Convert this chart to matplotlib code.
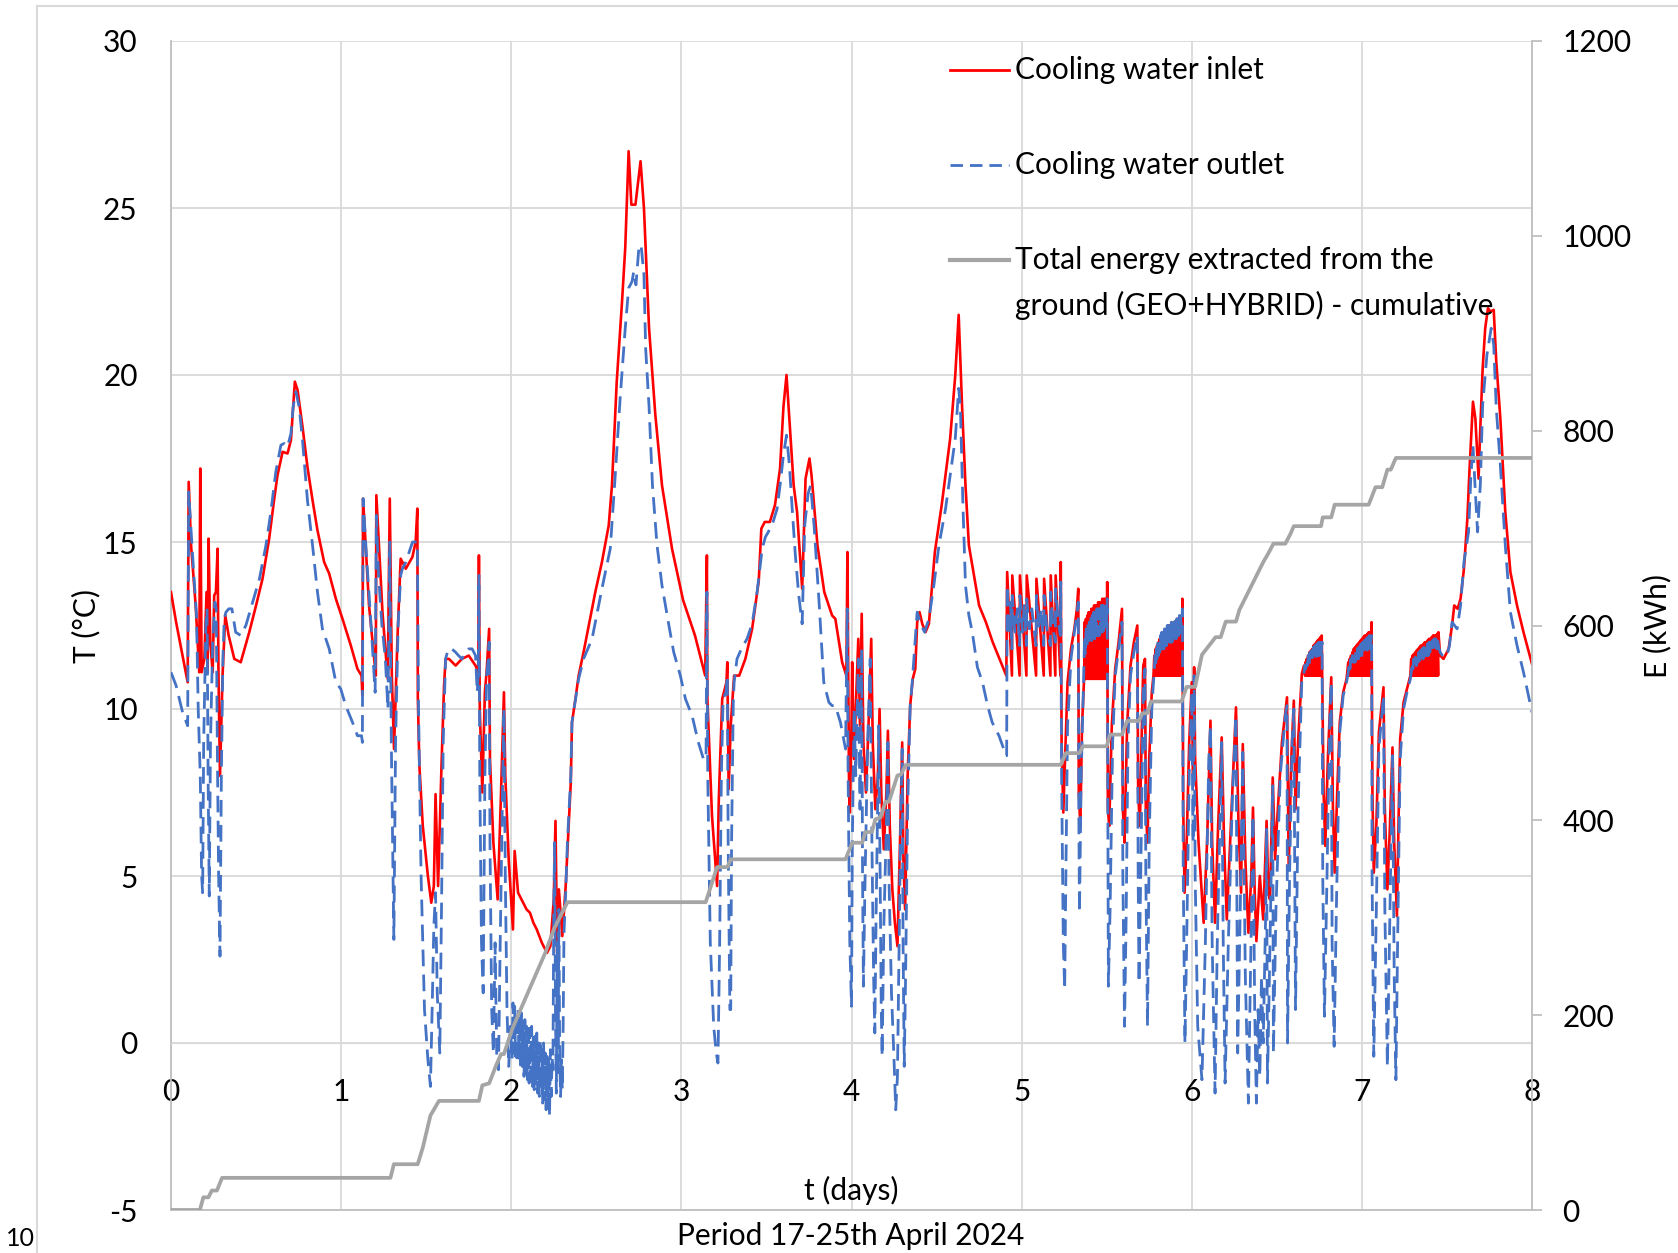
import numpy as np
import matplotlib
matplotlib.use("Agg")
import matplotlib.pyplot as plt
from matplotlib.lines import Line2D

plt.rcParams['font.family'] = ['Lato', 'DejaVu Sans']
plt.rcParams['axes.unicode_minus'] = False

RED = '#FF0000'
BLUE = '#4472C4'
GREY = '#A5A5A5'
GRID = '#D9D9D9'
AXIS = '#BFBFBF'
FS = 21.5

# ---- cooling water inlet (t in days, T in degC) ----
inlet_day0 = [(0.000, 13.5), (0.030, 12.6), (0.060, 11.8), (0.098, 10.8), (0.104, 16.8), (0.118, 14.9),
              (0.145, 13.1), (0.166, 11.1), (0.172, 17.2), (0.180, 11.1), (0.196, 11.5), (0.209, 13.5),
              (0.215, 11.1), (0.221, 15.1), (0.231, 12.0), (0.245, 11.1), (0.254, 13.4), (0.264, 13.5),
              (0.274, 14.8), (0.279, 11.1), (0.288, 8.0), (0.303, 11.0), (0.319, 12.8), (0.339, 12.2),
              (0.372, 11.5), (0.410, 11.4), (0.46, 12.3), (0.50, 13.1), (0.538, 13.9), (0.577, 15.1),
              (0.607, 16.3), (0.626, 17.0), (0.656, 17.7), (0.685, 17.65), (0.705, 18.05), (0.718, 19.05),
              (0.728, 19.8), (0.744, 19.55), (0.773, 18.45), (0.802, 17.25), (0.832, 16.25), (0.861, 15.35),
              (0.90, 14.4), (0.93, 14.05), (0.969, 13.3), (1.008, 12.7)]
inlet_day1 = [(1.057, 11.9), (1.096, 11.2), (1.12, 11.0), (1.125, 10.4), (1.129, 16.3), (1.164, 13.1),
              (1.204, 11.0), (1.207, 16.4), (1.243, 12.9), (1.274, 10.9), (1.286, 16.3), (1.298, 11.0),
              (1.311, 8.8), (1.331, 12.1), (1.35, 14.5), (1.38, 14.2), (1.419, 14.55), (1.438, 15.0),
              (1.448, 16.0), (1.451, 10.3), (1.46, 8.3), (1.48, 6.5), (1.51, 5.0), (1.53, 4.2),
              (1.545, 4.7), (1.555, 7.45), (1.57, 4.7), (1.59, 8.3), (1.605, 10.7), (1.614, 11.5),
              (1.634, 11.5), (1.673, 11.3), (1.71, 11.5), (1.75, 11.6), (1.79, 11.3), (1.806, 11.1),
              (1.81, 14.6), (1.815, 10.0), (1.83, 7.5), (1.845, 10.5), (1.855, 11.1), (1.87, 12.4),
              (1.875, 8.5), (1.895, 6.0), (1.92, 4.3), (1.94, 7.5), (1.957, 10.5), (1.965, 8.0),
              (1.985, 5.5), (2.01, 3.4)]
inlet_day2 = [(2.02, 5.75), (2.04, 4.5), (2.06, 4.3), (2.09, 4.0), (2.11, 3.9), (2.13, 3.6), (2.15, 3.4),
              (2.18, 3.0), (2.21, 2.7), (2.23, 2.9), (2.25, 4.3), (2.26, 6.65), (2.27, 2.7), (2.28, 4.6),
              (2.30, 3.2), (2.32, 4.7), (2.35, 7.8), (2.357, 9.6), (2.38, 10.4), (2.396, 11.0),
              (2.425, 11.7), (2.494, 13.5), (2.533, 14.4), (2.573, 15.5), (2.592, 16.7), (2.62, 19.8),
              (2.65, 22.1), (2.67, 23.8), (2.69, 26.7), (2.706, 25.1), (2.73, 25.1), (2.76, 26.4),
              (2.78, 25.0), (2.81, 21.4), (2.847, 18.8), (2.886, 16.7), (2.945, 14.8), (3.01, 13.26)]
inlet_day3 = [(3.08, 12.2), (3.14, 11.0), (3.15, 14.6), (3.153, 10.3), (3.18, 6.8), (3.21, 4.7),
              (3.22, 7.3), (3.24, 10.3), (3.265, 10.8), (3.27, 11.4), (3.278, 7.6), (3.29, 9.5),
              (3.31, 11.0), (3.34, 11.0), (3.376, 11.5), (3.416, 12.4), (3.455, 13.85), (3.47, 15.4),
              (3.49, 15.6), (3.52, 15.6), (3.55, 16.1), (3.58, 17.2), (3.60, 19.05), (3.618, 20.0),
              (3.63, 19.05), (3.66, 16.7), (3.68, 15.9), (3.71, 13.6), (3.73, 16.9), (3.753, 17.5),
              (3.765, 17.0), (3.80, 14.9), (3.84, 13.5), (3.886, 12.8), (3.905, 12.7), (3.945, 11.4),
              (3.97, 11.0), (3.976, 14.7), (3.985, 8.0), (3.99, 6.9)]
inlet_day4 = [(4.0, 9.5), (4.004, 11.4), (4.015, 8.5), (4.025, 10.0), (4.04, 12.1), (4.05, 9.5),
              (4.06, 12.85), (4.07, 9.0), (4.085, 7.5), (4.10, 9.5), (4.116, 12.1), (4.125, 9.0),
              (4.14, 7.0), (4.155, 8.0), (4.165, 10.0), (4.175, 7.5), (4.19, 5.8), (4.205, 7.5),
              (4.214, 9.35), (4.225, 6.5), (4.24, 4.6), (4.255, 3.6), (4.27, 2.9), (4.285, 6.0),
              (4.298, 9.0), (4.305, 5.5), (4.315, 4.0), (4.33, 8.0), (4.345, 10.1), (4.36, 10.9),
              (4.375, 11.2), (4.386, 12.6), (4.40, 12.9), (4.416, 12.55), (4.435, 12.3), (4.455, 12.55),
              (4.49, 14.7), (4.53, 16.1), (4.56, 17.3), (4.58, 18.1), (4.61, 20.0), (4.63, 21.8),
              (4.65, 19.05), (4.67, 16.7), (4.69, 14.9), (4.72, 14.0), (4.75, 13.1), (4.79, 12.6),
              (4.83, 12.0), (4.87, 11.5), (4.91, 11.0),
              (4.915, 14.1), (4.943, 11.0), (4.945, 14.0), (4.988, 11.0), (4.990, 14.0)]
inlet_day5 = [(5.028, 11.0), (5.030, 14.0), (5.085, 11.0), (5.087, 13.9), (5.130, 11.0), (5.132, 13.9),
              (5.169, 11.0), (5.171, 14.0), (5.198, 11.0), (5.200, 14.0), (5.228, 11.0), (5.230, 14.4),
              (5.235, 9.0), (5.245, 6.9), (5.255, 8.5), (5.27, 10.8), (5.29, 11.8), (5.31, 12.4),
              (5.325, 13.0), (5.333, 13.6), (5.336, 7.5), (5.345, 6.5), (5.355, 9.5), (5.368, 11.0),
              (5.370, 12.6), (5.376, 10.9), (5.378, 12.7), (5.384, 10.9), (5.386, 12.8), (5.392, 10.9),
              (5.394, 12.9), (5.400, 10.9), (5.402, 12.9), (5.408, 10.9), (5.410, 13.0), (5.416, 10.9),
              (5.418, 13.0), (5.424, 10.9), (5.426, 13.1), (5.432, 10.9), (5.434, 13.1), (5.440, 10.9),
              (5.442, 13.1), (5.448, 10.9), (5.450, 13.2), (5.456, 10.9), (5.458, 13.2), (5.464, 10.9),
              (5.466, 13.2), (5.472, 10.9), (5.474, 13.3), (5.480, 10.9), (5.482, 13.3), (5.488, 10.9),
              (5.490, 13.3), (5.496, 10.9), (5.498, 13.3), (5.502, 11.0),
              (5.503, 13.8), (5.507, 7.0), (5.515, 6.5), (5.53, 9.5), (5.55, 11.2), (5.57, 12.0),
              (5.59, 13.0), (5.595, 7.0), (5.605, 6.0), (5.62, 9.5), (5.64, 11.3), (5.66, 12.0),
              (5.68, 12.5), (5.685, 7.5), (5.695, 6.5), (5.705, 9.0), (5.715, 11.3), (5.725, 11.5),
              (5.73, 7.0), (5.74, 6.0), (5.75, 8.5), (5.765, 10.5), (5.775, 11.0),
              (5.780, 11.6), (5.786, 11.0), (5.788, 11.8), (5.794, 11.0), (5.796, 11.9), (5.802, 11.0),
              (5.804, 12.0), (5.810, 11.0), (5.812, 12.1), (5.818, 11.0), (5.820, 12.2), (5.826, 11.0),
              (5.828, 12.25), (5.834, 11.0), (5.836, 12.3), (5.842, 11.0), (5.844, 12.35), (5.850, 11.0),
              (5.852, 12.4), (5.858, 11.0), (5.860, 12.45), (5.866, 11.0), (5.868, 12.5), (5.874, 11.0),
              (5.876, 12.5), (5.882, 11.0), (5.884, 12.55), (5.890, 11.0), (5.892, 12.6), (5.898, 11.0),
              (5.900, 12.6), (5.906, 11.0), (5.908, 12.65), (5.914, 11.0), (5.916, 12.7), (5.922, 11.0),
              (5.924, 12.7), (5.930, 11.0), (5.932, 12.75), (5.938, 11.0), (5.940, 12.8), (5.943, 11.2),
              (5.945, 13.3), (5.95, 7.0), (5.958, 4.5), (5.97, 6.0), (5.985, 9.0)]
inlet_day6 = [(6.0, 10.8), (6.008, 8.0), (6.014, 11.25), (6.02, 8.5), (6.04, 6.0), (6.07, 3.6), (6.09, 6.0),
              (6.11, 9.65), (6.12, 6.0), (6.137, 3.6), (6.155, 6.5), (6.176, 9.15), (6.19, 6.0),
              (6.206, 3.7), (6.23, 6.5), (6.26, 10.05), (6.275, 6.5), (6.29, 4.5), (6.30, 8.95),
              (6.315, 5.5), (6.333, 3.3), (6.35, 5.0), (6.36, 7.05), (6.37, 4.5), (6.38, 3.05),
              (6.40, 5.0), (6.42, 3.7), (6.44, 6.65), (6.45, 4.5), (6.46, 4.3), (6.476, 7.95),
              (6.49, 5.5), (6.50, 6.5), (6.53, 9.0), (6.56, 10.35), (6.57, 5.2), (6.585, 8.5),
              (6.60, 10.25), (6.61, 7.0), (6.625, 9.0), (6.647, 11.05),
              (6.660, 11.3), (6.666, 11.0), (6.668, 11.4), (6.674, 11.0), (6.676, 11.5), (6.682, 11.0),
              (6.684, 11.6), (6.690, 11.0), (6.692, 11.7), (6.698, 11.0), (6.700, 11.75), (6.706, 11.0),
              (6.708, 11.8), (6.714, 11.0), (6.716, 11.9), (6.722, 11.0), (6.724, 11.95), (6.730, 11.0),
              (6.732, 12.0), (6.738, 11.0), (6.740, 12.05), (6.746, 11.0), (6.748, 12.1), (6.754, 11.0),
              (6.756, 12.15), (6.762, 11.0), (6.764, 12.2),
              (6.775, 7.5), (6.785, 5.9), (6.80, 8.5), (6.82, 10.95), (6.83, 7.0), (6.84, 5.1),
              (6.855, 7.5), (6.87, 9.6), (6.89, 10.5), (6.91, 10.9),
              (6.920, 11.4), (6.926, 11.0), (6.928, 11.5), (6.934, 11.0), (6.936, 11.6), (6.942, 11.0),
              (6.944, 11.7), (6.950, 11.0), (6.952, 11.8), (6.958, 11.0), (6.960, 11.85), (6.966, 11.0),
              (6.968, 11.9), (6.974, 11.0), (6.976, 11.95), (6.982, 11.0), (6.984, 12.0), (6.990, 11.0),
              (6.992, 12.05), (6.998, 11.0)]
inlet_day7 = [(7.000, 12.1), (7.006, 11.0), (7.008, 12.15), (7.014, 11.0), (7.016, 12.2), (7.022, 11.0),
              (7.024, 12.2), (7.030, 11.0), (7.032, 12.25), (7.038, 11.0), (7.040, 12.3), (7.046, 11.0),
              (7.048, 12.3), (7.054, 11.1), (7.057, 12.6), (7.062, 7.5), (7.07, 5.1), (7.085, 6.5),
              (7.10, 9.3), (7.127, 10.65), (7.135, 7.0), (7.15, 4.6), (7.165, 6.5), (7.18, 8.85),
              (7.19, 6.0), (7.206, 3.8), (7.215, 6.5), (7.225, 9.1), (7.245, 10.2), (7.265, 10.6),
              (7.285, 11.0),
              (7.290, 11.5), (7.296, 11.0), (7.298, 11.6), (7.304, 11.0), (7.306, 11.65), (7.312, 11.0),
              (7.314, 11.7), (7.320, 11.0), (7.322, 11.75), (7.328, 11.0), (7.330, 11.8), (7.336, 11.0),
              (7.338, 11.85), (7.344, 11.0), (7.346, 11.9), (7.352, 11.0), (7.354, 11.9), (7.360, 11.0),
              (7.362, 11.95), (7.368, 11.0), (7.370, 12.0), (7.376, 11.0), (7.378, 12.0), (7.384, 11.0),
              (7.386, 12.05), (7.392, 11.0), (7.394, 12.1), (7.400, 11.0), (7.402, 12.1), (7.408, 11.0),
              (7.410, 12.15), (7.416, 11.0), (7.418, 12.2), (7.424, 11.0), (7.426, 12.2), (7.432, 11.0),
              (7.434, 12.2), (7.440, 11.0), (7.442, 12.25), (7.448, 11.0), (7.450, 12.3),
              (7.46, 11.6), (7.48, 11.5), (7.51, 11.8), (7.53, 12.5), (7.543, 13.1), (7.563, 13.0),
              (7.58, 13.3), (7.60, 14.2), (7.62, 15.7), (7.633, 17.2), (7.653, 19.2), (7.667, 18.7),
              (7.686, 16.9), (7.696, 18.4), (7.71, 20.2), (7.725, 21.4), (7.741, 22.0), (7.755, 21.9),
              (7.775, 21.95), (7.79, 20.4), (7.814, 18.7), (7.843, 15.9), (7.873, 14.1), (7.912, 13.1),
              (7.95, 12.3), (8.0, 11.35)]

# ---- cooling water outlet ----
outlet_day0 = [(0.000, 11.1), (0.030, 10.7), (0.068, 9.9), (0.098, 9.5), (0.104, 16.5), (0.127, 14.6),
               (0.150, 12.8), (0.160, 10.0), (0.172, 8.0), (0.180, 5.0), (0.186, 4.5), (0.192, 9.0),
               (0.205, 12.5), (0.212, 13.0), (0.218, 8.0), (0.225, 4.4), (0.232, 9.0), (0.245, 12.0),
               (0.258, 13.2), (0.266, 13.0), (0.272, 9.0), (0.28, 5.0), (0.288, 2.6), (0.296, 8.0),
               (0.305, 11.5), (0.313, 12.7), (0.323, 12.9), (0.340, 13.0), (0.358, 13.0), (0.38, 12.3),
               (0.41, 12.2), (0.44, 12.5), (0.48, 13.2), (0.52, 13.9), (0.558, 14.9), (0.587, 15.9),
               (0.616, 17.1), (0.646, 17.9), (0.665, 17.95), (0.685, 17.85), (0.705, 18.25), (0.718, 19.05),
               (0.734, 19.5), (0.753, 19.05), (0.773, 18.05), (0.802, 16.25), (0.832, 14.9), (0.861, 13.5),
               (0.89, 12.4), (0.93, 11.8), (0.969, 10.8), (0.998, 10.6)]
outlet_day1 = [(1.027, 10.1), (1.067, 9.6), (1.096, 9.2), (1.12, 9.2), (1.125, 9.0), (1.129, 16.3),
               (1.15, 14.5), (1.175, 12.6), (1.20, 10.5), (1.207, 15.8), (1.22, 14.0), (1.24, 12.5),
               (1.26, 11.5), (1.275, 10.0), (1.286, 15.0), (1.295, 9.0), (1.31, 3.1), (1.32, 9.0),
               (1.335, 12.5), (1.35, 14.0), (1.36, 14.2), (1.38, 14.4), (1.40, 14.7), (1.42, 15.0),
               (1.44, 15.0), (1.448, 15.0), (1.455, 10.0), (1.47, 5.0), (1.49, 1.0), (1.51, -0.5),
               (1.525, -1.3), (1.535, 1.0), (1.545, 3.5), (1.555, 4.5), (1.565, 1.5), (1.58, -0.3),
               (1.59, 4.0), (1.60, 9.0), (1.614, 11.5), (1.63, 11.8), (1.65, 11.8), (1.673, 11.7),
               (1.69, 11.6), (1.71, 11.5), (1.73, 11.7), (1.75, 11.8), (1.77, 11.8), (1.79, 11.6),
               (1.80, 10.5), (1.806, 11.0), (1.81, 14.0), (1.815, 8.0), (1.825, 3.0), (1.835, 1.5),
               (1.845, 8.0), (1.855, 11.0), (1.865, 11.5), (1.87, 12.0), (1.875, 6.0), (1.885, 1.0),
               (1.895, -0.3), (1.905, 3.0), (1.915, -0.5), (1.925, -0.8), (1.935, 3.0), (1.95, 8.0),
               (1.957, 10.0), (1.965, 5.0), (1.975, 1.0), (1.985, -0.7), (1.995, 0.5), (2.005, -0.5)]
outlet_day2 = [(2.01, 1.2), (2.015, -0.3), (2.02, 1.1), (2.025, -0.4), (2.03, 0.9), (2.035, -0.6),
               (2.04, 1.0), (2.045, -0.5), (2.05, 0.8), (2.055, -0.8), (2.06, 0.9), (2.065, -0.7),
               (2.07, 0.6), (2.075, -1.0), (2.08, 0.7), (2.085, -0.9), (2.09, 0.5), (2.095, -1.1),
               (2.10, 0.6), (2.105, -1.2), (2.11, 0.4), (2.115, -1.0), (2.12, 0.5), (2.125, -1.3),
               (2.13, 0.3), (2.135, -1.4), (2.14, 0.2), (2.145, -1.2), (2.15, 0.3), (2.155, -1.5),
               (2.16, 0.0), (2.165, -1.6), (2.17, 0.1), (2.175, -1.4), (2.18, -0.2), (2.185, -1.8),
               (2.19, 0.0), (2.195, -1.7), (2.20, -0.3), (2.205, -2.0), (2.21, -0.4), (2.215, -1.9),
               (2.22, -0.5), (2.225, -2.2), (2.23, -0.2), (2.235, -1.6), (2.24, -0.4), (2.245, -0.8),
               (2.25, 4.0), (2.255, 6.0), (2.26, 1.0), (2.265, -1.5), (2.27, 3.0), (2.275, -1.0),
               (2.28, 4.0), (2.285, -0.5), (2.29, -1.6), (2.295, -0.5), (2.30, -1.4), (2.305, 0.5),
               (2.31, 3.3), (2.32, 4.5), (2.33, 6.0), (2.35, 8.0), (2.357, 9.6), (2.396, 10.9),
               (2.425, 11.5), (2.475, 12.1), (2.533, 13.6), (2.582, 14.8), (2.61, 16.9), (2.64, 19.3),
               (2.67, 21.4), (2.69, 22.6), (2.71, 22.8), (2.72, 23.1), (2.733, 22.7), (2.75, 23.8),
               (2.763, 23.9), (2.78, 23.0), (2.79, 20.8), (2.81, 19.05), (2.83, 16.7), (2.857, 14.9),
               (2.886, 13.7), (2.925, 12.55), (2.955, 11.7), (2.994, 11.0)]
outlet_day3 = [(3.024, 10.3), (3.063, 9.8), (3.10, 9.0), (3.13, 8.5), (3.145, 8.5), (3.15, 13.5),
               (3.155, 8.0), (3.17, 3.0), (3.19, 0.5), (3.205, -0.3), (3.215, -0.6), (3.225, 3.0),
               (3.235, 8.0), (3.245, 10.3), (3.262, 10.5), (3.27, 11.0), (3.275, 6.0), (3.285, 1.0),
               (3.29, 1.0), (3.295, 6.0), (3.305, 10.2), (3.31, 10.8), (3.327, 11.5), (3.357, 11.85),
               (3.386, 12.1), (3.416, 12.55), (3.445, 13.5), (3.475, 14.8), (3.494, 15.15), (3.533, 15.5),
               (3.563, 16.0), (3.58, 16.7), (3.60, 17.6), (3.618, 18.2), (3.635, 17.3), (3.65, 16.1),
               (3.67, 14.6), (3.69, 13.4), (3.71, 12.55), (3.725, 15.5), (3.745, 16.45), (3.76, 16.7),
               (3.78, 15.5), (3.81, 13.15), (3.837, 10.8), (3.867, 10.2), (3.886, 10.1), (3.905, 10.1),
               (3.935, 9.6), (3.965, 8.8), (3.975, 13.0), (3.98, 8.0), (3.99, 3.0)]
outlet_day4 = [(4.0, 1.1), (4.005, 6.0), (4.015, 10.0), (4.025, 8.0), (4.04, 11.5), (4.05, 7.0),
               (4.06, 11.8), (4.065, 5.0), (4.07, 1.7), (4.08, 5.0), (4.095, 9.0), (4.11, 11.5),
               (4.12, 6.0), (4.13, 2.0), (4.137, 0.3), (4.145, 4.0), (4.16, 9.5), (4.165, 7.0),
               (4.175, 1.0), (4.18, -0.4), (4.19, 3.5), (4.205, 6.5), (4.214, 9.0), (4.22, 5.0),
               (4.235, 1.5), (4.25, -0.5), (4.26, -2.0), (4.27, -1.0), (4.28, 3.0), (4.29, 7.0),
               (4.298, 8.8), (4.303, 3.0), (4.31, -0.7), (4.318, 2.0), (4.33, 7.0), (4.345, 10.1),
               (4.357, 10.8), (4.386, 12.9), (4.406, 12.55), (4.43, 12.3), (4.455, 12.7), (4.484, 13.7),
               (4.514, 14.9), (4.553, 16.0), (4.58, 17.0), (4.61, 18.1), (4.63, 19.6), (4.64, 19.05),
               (4.655, 16.1), (4.67, 13.7), (4.69, 12.8), (4.71, 12.3), (4.74, 11.25), (4.77, 10.8),
               (4.80, 10.1), (4.827, 9.6), (4.867, 9.2), (4.895, 8.8), (4.906, 8.6), (4.912, 8.6),
               (4.915, 13.7), (4.925, 12.2), (4.935, 13.2), (4.943, 11.8), (4.945, 13.4), (4.96, 12.3),
               (4.975, 13.0), (4.988, 11.9), (4.99, 13.4), (5.005, 12.3), (5.015, 13.1)]
outlet_day5 = [(5.028, 11.9), (5.03, 13.3), (5.045, 12.4), (5.06, 13.0), (5.085, 11.9), (5.087, 13.4),
               (5.10, 12.4), (5.115, 13.0), (5.13, 11.9), (5.132, 13.4), (5.15, 12.3), (5.169, 11.9),
               (5.171, 13.5), (5.185, 12.4), (5.198, 12.0), (5.20, 13.6), (5.215, 12.6), (5.228, 12.2),
               (5.23, 13.8), (5.235, 8.0), (5.245, 3.0), (5.253, 1.6), (5.26, 5.0), (5.27, 9.5),
               (5.29, 11.5), (5.31, 12.3), (5.325, 12.8), (5.333, 13.2), (5.336, 7.0), (5.34, 3.9),
               (5.35, 8.0), (5.365, 11.0),
               (5.370, 12.2), (5.375, 11.6), (5.379, 12.5), (5.384, 11.8), (5.388, 12.6), (5.393, 11.9),
               (5.397, 12.7), (5.402, 12.0), (5.406, 12.8), (5.411, 12.0), (5.415, 12.8), (5.420, 12.1),
               (5.424, 12.9), (5.429, 12.1), (5.433, 12.9), (5.438, 12.2), (5.442, 13.0), (5.447, 12.2),
               (5.451, 13.0), (5.456, 12.2), (5.460, 13.0), (5.465, 12.3), (5.469, 13.1), (5.474, 12.3),
               (5.478, 13.1), (5.483, 12.3), (5.487, 13.1), (5.492, 12.4), (5.496, 13.2), (5.500, 12.4),
               (5.503, 13.3), (5.507, 6.0), (5.51, 1.7), (5.52, 4.0), (5.535, 9.0), (5.55, 11.0),
               (5.57, 11.8), (5.59, 12.6), (5.595, 5.0), (5.605, 0.5), (5.615, 4.0), (5.625, 9.0),
               (5.64, 11.0), (5.66, 11.7), (5.68, 12.2), (5.685, 5.0), (5.69, 1.8), (5.70, 5.0),
               (5.715, 10.5), (5.725, 11.2), (5.73, 5.0), (5.74, 0.5), (5.75, 6.0), (5.765, 10.0),
               (5.775, 10.8),
               (5.780, 11.2), (5.784, 11.6), (5.788, 11.3), (5.792, 11.8), (5.796, 11.5), (5.800, 12.0),
               (5.804, 11.6), (5.808, 12.1), (5.812, 11.7), (5.816, 12.2), (5.820, 11.7), (5.824, 12.3),
               (5.828, 11.8), (5.832, 12.3), (5.836, 11.8), (5.840, 12.4), (5.844, 11.9), (5.848, 12.4),
               (5.852, 11.9), (5.856, 12.5), (5.860, 12.0), (5.864, 12.5), (5.868, 12.0), (5.872, 12.5),
               (5.876, 12.0), (5.880, 12.6), (5.884, 12.0), (5.888, 12.6), (5.892, 12.1), (5.896, 12.6),
               (5.900, 12.1), (5.904, 12.7), (5.908, 12.1), (5.912, 12.7), (5.916, 12.2), (5.920, 12.7),
               (5.924, 12.2), (5.928, 12.8), (5.932, 12.2), (5.936, 12.8), (5.940, 12.3),
               (5.945, 13.0), (5.95, 5.0), (5.96, 0.0), (5.97, 3.0), (5.985, 8.0)]
outlet_day6 = [(6.0, 10.5), (6.008, 6.0), (6.014, 11.0), (6.02, 5.0), (6.035, 0.5), (6.06, -1.1),
               (6.08, 3.0), (6.10, 8.5), (6.11, 9.5), (6.12, 3.0), (6.137, -1.5), (6.15, 3.0),
               (6.176, 9.0), (6.185, 3.0), (6.196, -1.2), (6.215, 3.0), (6.24, 7.5), (6.26, 9.8),
               (6.27, -0.3), (6.285, 4.0), (6.30, 8.7), (6.315, 2.0), (6.333, -1.8), (6.345, 2.0),
               (6.36, 6.8), (6.37, 1.0), (6.38, -1.8), (6.39, 1.0), (6.40, -1.0), (6.41, 2.0),
               (6.42, 0.0), (6.435, 4.0), (6.44, 6.4), (6.445, -1.2), (6.46, 3.0), (6.476, 7.7),
               (6.48, -0.3), (6.495, 4.0), (6.52, 8.0), (6.55, 9.8), (6.56, 10.1), (6.563, 0.0),
               (6.575, 5.0), (6.59, 9.0), (6.60, 10.0), (6.61, 1.0), (6.625, 7.0), (6.647, 10.9),
               (6.660, 11.1), (6.665, 11.3), (6.670, 11.2), (6.675, 11.5), (6.680, 11.3), (6.685, 11.6),
               (6.690, 11.3), (6.695, 11.7), (6.700, 11.4), (6.705, 11.75), (6.710, 11.4), (6.715, 11.85),
               (6.720, 11.5), (6.725, 11.9), (6.730, 11.5), (6.735, 11.95), (6.740, 11.6), (6.745, 12.0),
               (6.750, 11.6), (6.755, 12.05), (6.760, 11.7), (6.766, 12.0),
               (6.77, 5.0), (6.78, 0.8), (6.795, 5.0), (6.81, 9.5), (6.82, 10.8), (6.825, 3.0),
               (6.837, -0.1), (6.85, 4.0), (6.87, 9.3), (6.89, 10.4), (6.91, 10.8),
               (6.920, 11.1), (6.925, 11.4), (6.930, 11.2), (6.935, 11.5), (6.940, 11.3), (6.945, 11.6),
               (6.950, 11.4), (6.955, 11.7), (6.960, 11.4), (6.965, 11.8), (6.970, 11.5), (6.975, 11.85),
               (6.980, 11.5), (6.985, 11.9), (6.990, 11.6), (6.995, 11.95)]
outlet_day7 = [(7.000, 11.6), (7.005, 12.0), (7.010, 11.7), (7.015, 12.05), (7.020, 11.7), (7.025, 12.1),
               (7.030, 11.7), (7.035, 12.15), (7.040, 11.8), (7.045, 12.2), (7.050, 11.8), (7.057, 12.2),
               (7.06, 5.0), (7.07, -0.4), (7.085, 4.0), (7.10, 8.8), (7.127, 10.4), (7.135, 4.0),
               (7.15, -0.7), (7.165, 4.0), (7.18, 8.6), (7.19, 2.0), (7.20, -1.1), (7.21, 3.0),
               (7.225, 8.5), (7.245, 10.0), (7.265, 10.5), (7.285, 10.9),
               (7.290, 11.1), (7.295, 11.4), (7.300, 11.2), (7.305, 11.5), (7.310, 11.3), (7.315, 11.55),
               (7.320, 11.3), (7.325, 11.6), (7.330, 11.4), (7.335, 11.7), (7.340, 11.4), (7.345, 11.75),
               (7.350, 11.5), (7.355, 11.8), (7.360, 11.5), (7.365, 11.85), (7.370, 11.6), (7.375, 11.9),
               (7.380, 11.6), (7.385, 11.95), (7.390, 11.6), (7.395, 12.0), (7.400, 11.7), (7.405, 12.0),
               (7.410, 11.7), (7.415, 12.05), (7.420, 11.7), (7.425, 12.1), (7.430, 11.8), (7.435, 12.1),
               (7.440, 11.8), (7.445, 12.1), (7.450, 11.9),
               (7.46, 11.7), (7.48, 11.55), (7.50, 11.6), (7.515, 11.9), (7.53, 12.6), (7.56, 12.4),
               (7.58, 13.1), (7.60, 14.4), (7.627, 15.3), (7.64, 16.9), (7.653, 17.9), (7.667, 16.5),
               (7.68, 15.3), (7.696, 16.7), (7.71, 19.1), (7.735, 20.6), (7.76, 21.4), (7.775, 20.9),
               (7.79, 19.0), (7.814, 17.3), (7.843, 14.9), (7.873, 12.9), (7.912, 11.9), (7.95, 11.1),
               (8.0, 9.9)]

# ---- cumulative energy extracted (kWh) ----
energy_pts = [(0.00, 0), (0.17, 0), (0.19, 13), (0.22, 13), (0.24, 20), (0.27, 20), (0.30, 33), (1.29, 33),
              (1.31, 47), (1.45, 47), (1.48, 64), (1.525, 97), (1.575, 112), (1.81, 112), (1.83, 128),
              (1.87, 130), (1.91, 148), (1.94, 160), (1.957, 160), (2.006, 186), (2.10, 224), (2.20, 264),
              (2.25, 288), (2.29, 302), (2.33, 316), (3.143, 316), (3.21, 352), (3.27, 352), (3.29, 360),
              (3.965, 360), (4.004, 377), (4.063, 377), (4.082, 388), (4.12, 388), (4.14, 401),
              (4.17, 403), (4.20, 419), (4.22, 419), (4.27, 446), (4.29, 447), (4.32, 457), (5.23, 457),
              (5.26, 469), (5.34, 469), (5.36, 476), (5.50, 476), (5.52, 488), (5.59, 488), (5.62, 502),
              (5.69, 502), (5.71, 510), (5.74, 510), (5.76, 522), (5.94, 522), (5.97, 537), (6.02, 537),
              (6.06, 570), (6.14, 588), (6.17, 588), (6.20, 604), (6.26, 604), (6.28, 616), (6.34, 637),
              (6.42, 665), (6.45, 674), (6.48, 684), (6.55, 684), (6.58, 694), (6.60, 702), (6.76, 702),
              (6.77, 711), (6.82, 711), (6.84, 724), (7.04, 724), (7.08, 742), (7.12, 742), (7.15, 760),
              (7.17, 760), (7.20, 772), (8.00, 772)]

x_ticks = list(range(0, 9))
t_ticks = list(range(-5, 31, 5))
e_ticks = list(range(0, 1201, 200))


def unzip(*segs):
    pts = [p for s in segs for p in s]
    return np.array([p[0] for p in pts]), np.array([p[1] for p in pts])


t_in, T_in = unzip(inlet_day0, inlet_day1, inlet_day2, inlet_day3, inlet_day4, inlet_day5,
                   inlet_day6, inlet_day7)
t_out, T_out = unzip(outlet_day0, outlet_day1, outlet_day2, outlet_day3, outlet_day4, outlet_day5,
                     outlet_day6, outlet_day7)
t_e, E = unzip(energy_pts)

W, H = 1678, 1253
fig = plt.figure(figsize=(W / 100, H / 100), dpi=100)
ax = fig.add_axes([171 / W, 1 - 1210 / H, (1532 - 171) / W, (1210 - 41) / H])

ax.plot(t_in, T_in, color=RED, lw=1.9, zorder=3)
ax.plot(t_out, T_out, color=BLUE, lw=2.0, ls=(0, (6, 3)), zorder=4)

ax.set_xlim(0, 8)
ax.set_ylim(-5, 30)
ax.set_xticks(x_ticks)
ax.set_yticks(t_ticks)
ax.grid(True, color=GRID, lw=1.3, zorder=0)
ax.set_axisbelow(True)
ax.spines['bottom'].set_position(('data', 0))
ax.spines['bottom'].set_color(GRID)
ax.spines['left'].set_color(AXIS)
ax.spines['left'].set_linewidth(1.3)
ax.spines['top'].set_visible(False)
ax.spines['right'].set_visible(False)
ax.tick_params(axis='x', length=0, pad=25, labelsize=FS)
ax.tick_params(axis='y', length=0, pad=24, labelsize=FS)

ax2 = ax.twinx()
ax2.plot(t_e, E, color=GREY, lw=2.7, zorder=5)
ax2.set_ylim(0, 1200)
ax2.set_yticks(e_ticks)
ax2.spines['top'].set_visible(False)
ax2.spines['left'].set_visible(False)
ax2.spines['right'].set_color(AXIS)
ax2.spines['right'].set_linewidth(1.3)
ax2.spines['bottom'].set_color(AXIS)
ax2.spines['bottom'].set_linewidth(1.3)
ax2.tick_params(axis='y', length=7, width=1.3, color=AXIS, pad=15, labelsize=FS)


# legend drawn by hand (frameless, Excel style)
def fx(px):
    return px / W


def fy(py):
    return 1 - py / H


leg = [(70, RED, '-', 2.0, 'Cooling water inlet'),
       (165, BLUE, (0, (4.5, 2.5)), 2.0, 'Cooling water outlet'),
       (260, GREY, '-', 3.0, 'Total energy extracted from the')]
for py, c, ls, lw, lab in leg:
    fig.add_artist(Line2D([fx(950), fx(1009)], [fy(py), fy(py)], color=c, ls=ls, lw=lw))
    fig.text(fx(1015), fy(py), lab, fontsize=FS, va='center', ha='left')
fig.text(fx(1015), fy(305), 'ground (GEO+HYBRID) - cumulative', fontsize=FS, va='center', ha='left')

fig.text(fx(86), fy(626), 'T (°C)', rotation=90, fontsize=FS, ha='center', va='center')
fig.text(fx(1657), fy(626), 'E (kWh)', rotation=90, fontsize=FS, ha='center', va='center')
fig.text(fx(851), fy(1190), 't (days)', fontsize=FS, ha='center', va='center')
fig.text(fx(851), fy(1236), 'Period 17-25th April 2024', fontsize=FS, ha='center', va='center')
fig.text(fx(20), fy(1238), '10', fontsize=18, ha='center', va='center')

# outer border of the pasted chart
fig.add_artist(Line2D([fx(37), fx(37)], [0, fy(6)], color=GRID, lw=1.5))
fig.add_artist(Line2D([fx(37), 1], [fy(6), fy(6)], color=GRID, lw=1.5))

fig.savefig('out.png', dpi=100)
